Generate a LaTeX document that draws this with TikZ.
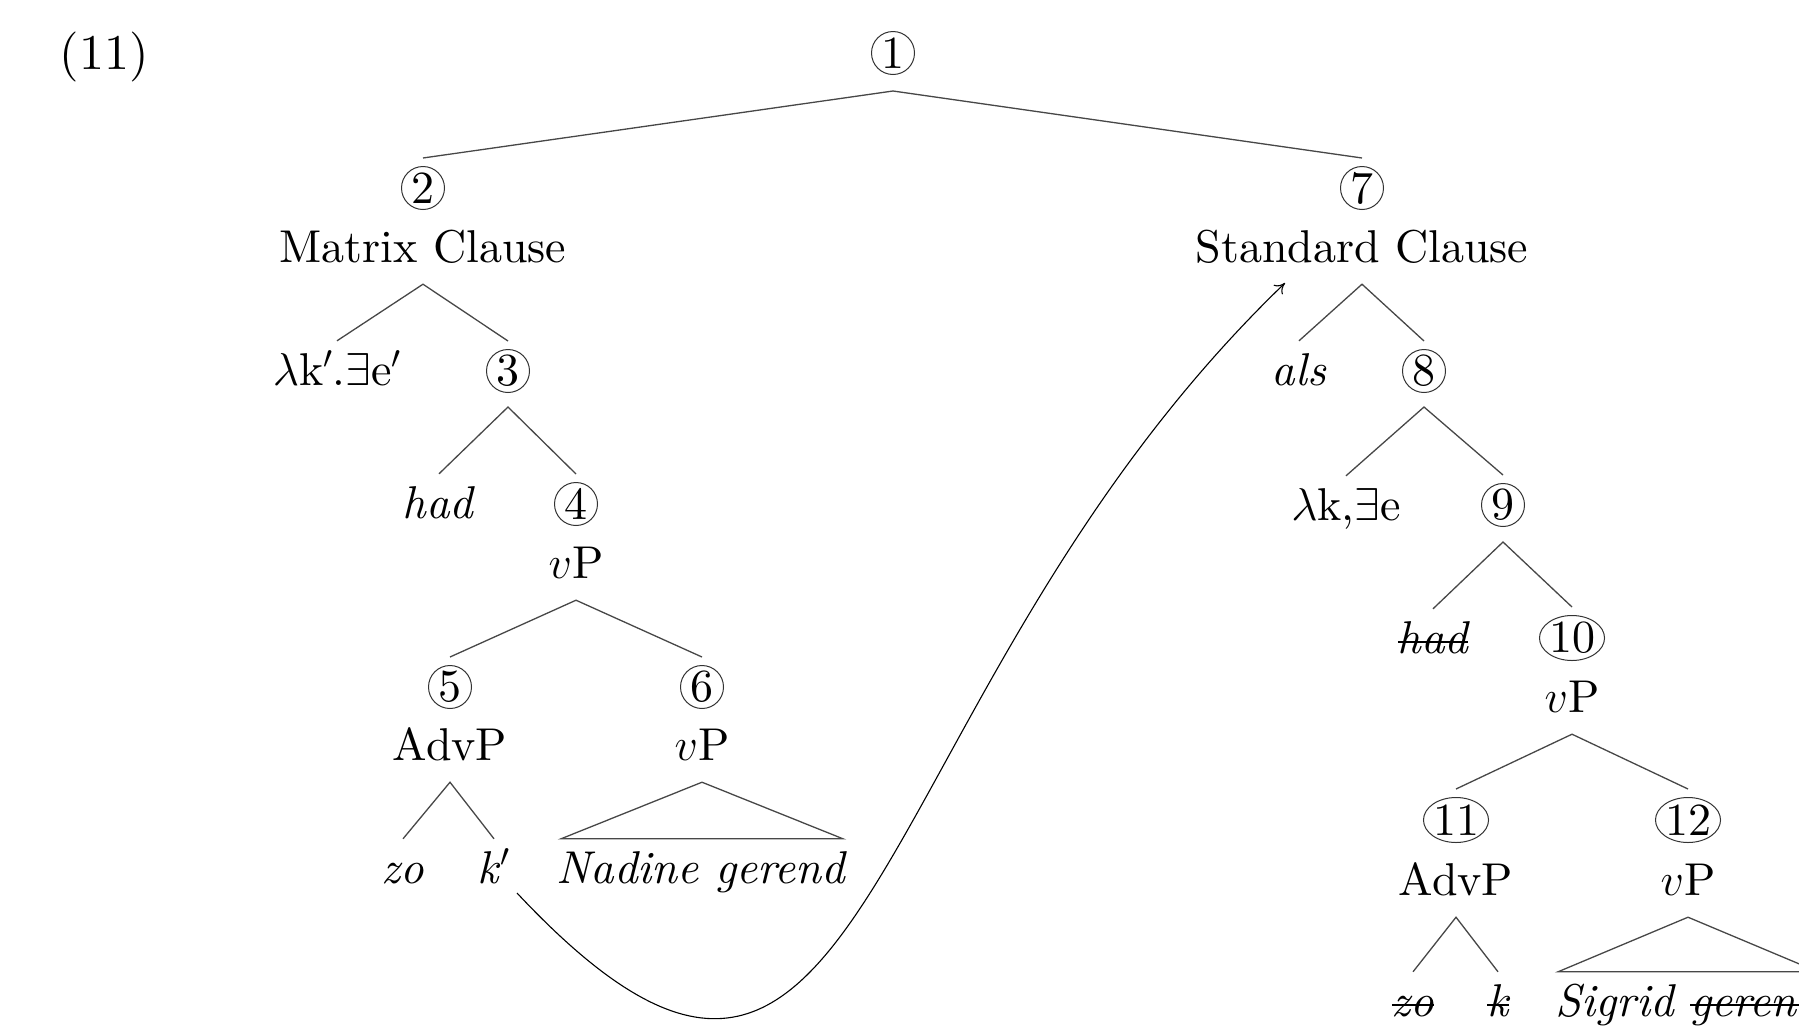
\RequirePackage{fix-cm}
\documentclass[tikz,border=0pt]{standalone}
\usetikzlibrary{calc,shapes.geometric,arrows.meta}
\DeclareFontFamily{TU}{lmr}{}
\DeclareFontShape{TU}{lmr}{m}{n}{<->"[lmroman10-regular]:+tlig;"}{}
\DeclareFontShape{TU}{lmr}{m}{it}{<->"[lmroman10-italic]:+tlig;"}{}
\newsavebox\strkbox
\newcommand\strk[1]{\sbox\strkbox{#1}\rlap{\rule[0.22em]{\wd\strkbox}{1.4pt}}\usebox\strkbox}
\begin{document}
\begin{tikzpicture}[x=1pt,y=-1pt,
  every node/.style={font=\fontsize{46}{55}\selectfont, inner sep=0pt},
  edge/.style={line width=1.3pt, draw=black!72},
  num/.style={circle, draw=black!80, line width=1pt, minimum size=43pt, outer sep=8.5pt},
  numw/.style={ellipse, draw=black!80, line width=1pt, minimum width=57pt, minimum height=45pt, outer sep=8.5pt},
  cat/.style={anchor=base, text depth=22pt},
  leaf/.style={anchor=base, text height=44pt, text depth=0pt},
  move/.style={line width=1.1pt, -{To[length=10pt,width=13pt]}}]
\useasboundingbox (0,0) rectangle (1799,1026);
% example number
\node[anchor=base, font=\fontsize{50}{60}\selectfont] (ex) at (104,69) {(11)};
% left tree
\node[num] (c1) at (893,53) {1};
\node[num] (c2) at (423,188) {2};
\node[cat] (mc) at (423,262) {Matrix Clause};
\node[leaf] (lk1) at (337,385) {$\lambda$k$'$.$\exists$e$'$};
\node[num] (c3) at (508,371) {3};
\node[leaf] (had1) at (439,518) {\textit{had}};
\node[num] (c4) at (576,504) {4};
\node[cat] (vp4) at (576,578) {$v$P};
\node[num] (c5) at (450,687) {5};
\node[cat] (adv5) at (450,760) {AdvP};
\node[num] (c6) at (702,687) {6};
\node[cat] (vp6) at (702,760) {$v$P};
\node[leaf] (zo1) at (403,883) {\textit{zo}};
\node[leaf] (k1) at (494,883) {\textit{k}$'$};
\node[leaf] (ng) at (702,883) {\textit{Nadine gerend}};
% right tree
\node[num] (c7) at (1362,188) {7};
\node[cat] (sc) at (1362,262) {Standard Clause};
\node[leaf] (als) at (1299,385) {\textit{als}};
\node[num] (c8) at (1424,371) {8};
\node[leaf] (lk2) at (1346,520) {$\lambda$k,$\exists$e};
\node[num] (c9) at (1503,505) {9};
\node[leaf] (had2) at (1433,653) {\textit{\strk{had}}};
\node[numw] (c10) at (1572,638) {10};
\node[cat] (vp10) at (1572,712) {$v$P};
\node[numw] (c11) at (1456,820) {11};
\node[cat] (adv11) at (1456,895) {AdvP};
\node[numw] (c12) at (1688,820) {12};
\node[cat] (vp12) at (1688,895) {$v$P};
\node[leaf] (zo2) at (1413,1016) {\textit{\strk{zo}}};
\node[leaf] (k2) at (1498,1016) {\textit{\strk{k}}};
\node[leaf] (sg) at (1688,1016) {\textit{Sigrid \strk{gerend}}};
% edges
\draw[edge] (c2.north) -- ($(c1.center)+(0,38)$) -- (c7.north);
\draw[edge] (lk1.north) -- (mc.south) -- (c3.north);
\draw[edge] (had1.north) -- ($(c3.center)+(0,36)$) -- (c4.north);
\draw[edge] (c5.north) -- (vp4.south) -- (c6.north);
\draw[edge] (zo1.north) -- (adv5.south) -- (k1.north);
\draw[edge] (vp6.south) -- ($(ng.north)+(141,0)$) -- ($(ng.north)+(-141,0)$) -- cycle;
\draw[edge] (als.north) -- (sc.south) -- (c8.north);
\draw[edge] (lk2.north) -- ($(c8.center)+(0,36)$) -- (c9.north);
\draw[edge] (had2.north) -- ($(c9.center)+(0,37)$) -- (c10.north);
\draw[edge] (c11.north) -- (vp10.south) -- (c12.north);
\draw[edge] (zo2.north) -- (adv11.south) -- (k2.north);
\draw[edge] (vp12.south) -- ($(sg.north)+(130,0)$) -- ($(sg.north)+(-130,0)$) -- cycle;
% movement arrow
\draw[move] ($(k1.base)+(23,10)$) .. controls (876,1276) and (852,700) .. ($(sc.base)+(-77,21)$);
\end{tikzpicture}
\end{document}
